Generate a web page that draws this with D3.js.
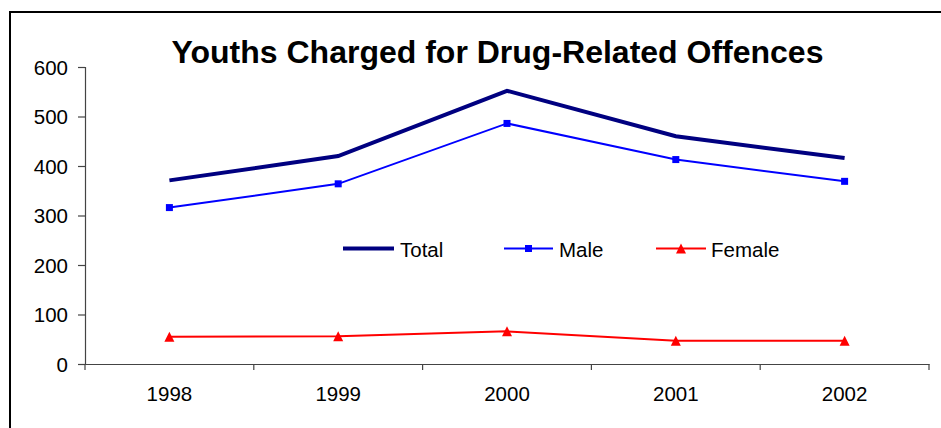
<!DOCTYPE html>
<html>
<head>
<meta charset="utf-8">
<script src="https://cdn.jsdelivr.net/npm/d3@7"></script>
<style>
  html, body { margin: 0; padding: 0; background: #fff; }
  svg { display: block; font-family: "Liberation Sans", Arial, sans-serif; }
</style>
</head>
<body>
<svg id="chart" width="941" height="428"></svg>
<script>
const title = "Youths Charged for Drug-Related Offences";
const years = ["1998", "1999", "2000", "2001", "2002"];
const total = [371, 420, 552, 460, 416];
const male = [316, 364, 486, 413, 369];
const female = [55, 56, 66, 47, 47];
const yTicks = [0, 100, 200, 300, 400, 500, 600];
const seriesNames = ["Total", "Male", "Female"];

(function () {
const svg = d3.select("#chart");

// outer frame (cut off at right and bottom)
svg.append("rect").attr("x", 10).attr("y", 12).attr("width", 945).attr("height", 430)
  .attr("fill", "#fff").attr("stroke", "#000").attr("stroke-width", 2);

const pl = 85, pr = 929, pt = 67, pb = 364;
const x = d3.scaleBand().domain(years).range([pl, pr]).padding(0);
const y = d3.scaleLinear().domain([0, 600]).range([pb, pt]);
const cx = d => x(d) + x.bandwidth() / 2;

// Title
svg.append("text").attr("x", 497.5).attr("y", 63).attr("text-anchor", "middle")
  .attr("font-weight", "bold").attr("font-size", 32).attr("fill", "#000").text(title);

// Y axis
const yAxis = svg.append("g").attr("transform", `translate(${pl},0)`)
  .call(d3.axisLeft(y).tickValues(yTicks).tickSize(7).tickPadding(10).tickFormat(d3.format("d")));
yAxis.select(".domain").attr("stroke", "#444").attr("stroke-width", 1.2);
yAxis.selectAll(".tick line").attr("stroke", "#444").attr("stroke-width", 1.2);
yAxis.selectAll(".tick text").attr("font-size", 20.5).attr("fill", "#000")
  .attr("font-family", "Liberation Sans, Arial, sans-serif").attr("dy", "0.36em");

// X axis
const xAxis = svg.append("g").attr("transform", `translate(0,${pb})`)
  .call(d3.axisBottom(x).tickSize(0).tickPadding(22));
xAxis.select(".domain").attr("stroke", "#444").attr("stroke-width", 1.2);
xAxis.selectAll(".tick text").attr("font-size", 20.5).attr("fill", "#000")
  .attr("font-family", "Liberation Sans, Arial, sans-serif");
// boundary tick marks
const bounds = years.map(d => x(d)).concat([x(years[years.length - 1]) + x.bandwidth()]);
xAxis.selectAll(".btick").data(bounds).enter().append("line").attr("class", "btick")
  .attr("x1", d => d).attr("x2", d => d).attr("y1", 0).attr("y2", 6)
  .attr("stroke", "#444").attr("stroke-width", 1.2);

const line = d3.line().x((d, i) => cx(years[i])).y(d => y(d));

// Female
svg.append("path").datum(female).attr("d", line).attr("fill", "none")
  .attr("stroke", "#FF0000").attr("stroke-width", 2);
svg.selectAll(".fm").data(female).enter().append("path").attr("class", "fm")
  .attr("d", (d, i) => { const px = cx(years[i]), py = y(d); return `M${px},${py - 5}L${px + 5},${py + 5}L${px - 5},${py + 5}Z`; })
  .attr("fill", "#FF0000");

// Male
svg.append("path").datum(male).attr("d", line).attr("fill", "none")
  .attr("stroke", "#0000FF").attr("stroke-width", 2);
svg.selectAll(".mm").data(male).enter().append("rect").attr("class", "mm")
  .attr("x", (d, i) => cx(years[i]) - 3.5).attr("y", d => y(d) - 3.5)
  .attr("width", 7).attr("height", 7).attr("fill", "#0000FF");

// Total
svg.append("path").datum(total).attr("d", line).attr("fill", "none")
  .attr("stroke", "#000080").attr("stroke-width", 4);

// Legend
const ly = 248.5;
const leg = svg.append("g");
leg.append("line").attr("x1", 343).attr("x2", 394).attr("y1", ly).attr("y2", ly)
  .attr("stroke", "#000080").attr("stroke-width", 4);
leg.append("text").attr("x", 400).attr("y", ly + 8.5).attr("font-size", 20.5).text(seriesNames[0]);

leg.append("line").attr("x1", 504).attr("x2", 553).attr("y1", ly).attr("y2", ly)
  .attr("stroke", "#0000FF").attr("stroke-width", 2);
leg.append("rect").attr("x", 528.5 - 3.5).attr("y", ly - 3.5).attr("width", 7).attr("height", 7).attr("fill", "#0000FF");
leg.append("text").attr("x", 559).attr("y", ly + 8.5).attr("font-size", 20.5).text(seriesNames[1]);

leg.append("line").attr("x1", 656).attr("x2", 706).attr("y1", ly).attr("y2", ly)
  .attr("stroke", "#FF0000").attr("stroke-width", 2);
leg.append("path").attr("d", `M681,${ly - 5}L686,${ly + 5}L676,${ly + 5}Z`).attr("fill", "#FF0000");
leg.append("text").attr("x", 711).attr("y", ly + 8.5).attr("font-size", 20.5).text(seriesNames[2]);
})();
</script>
</body>
</html>
